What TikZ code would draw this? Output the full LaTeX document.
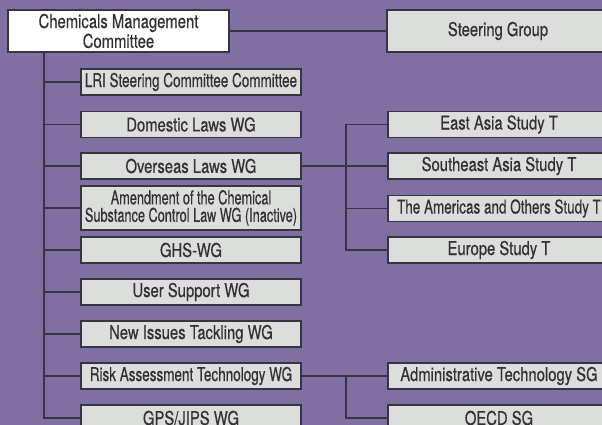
\documentclass[tikz,border=0pt]{standalone}
\usepackage{fontspec}
\setmainfont[FakeStretch=0.78,FakeBold=0.4]{TeX Gyre Heros}
\newfontfamily\fnarrow[FakeStretch=0.67,FakeBold=0.4]{TeX Gyre Heros}
\newfontfamily\fmid[FakeStretch=0.71,FakeBold=0.4]{TeX Gyre Heros}
\definecolor{bg}{HTML}{7E70A0}
\definecolor{boxfill}{HTML}{DCDEDC}
\definecolor{ln}{HTML}{3A3343}
\definecolor{txt}{HTML}{333133}
\begin{document}
\begin{tikzpicture}[x=1pt,y=-1pt,
  box/.style={draw=ln,line width=1.3pt,fill=boxfill,inner sep=0pt,text=txt,font=\fontsize{19}{17.5}\selectfont,align=center},
  lbox/.style={box,minimum width=220pt,minimum height=26pt},
  rbox/.style={box,minimum width=222pt,minimum height=26pt},
  conn/.style={draw=ln,line width=1.3pt}]
\useasboundingbox (0,0) rectangle (602,425);
\clip (0,0) rectangle (602,425);
\fill[bg] (0,0) rectangle (602,425);
% top
\node[box,fill=white,minimum width=221pt,minimum height=42pt] (cmc) at (118.5,31) {Chemicals Management\\[0.5pt]Committee};
\node[rbox,minimum height=42pt] (sg) at (498,31) {Steering Group};
% left column
\node[lbox] (lri) at (191,82) {\fmid LRI Steering Committee Committee};
\node[lbox] (dom) at (191,124.5) {Domestic Laws WG};
\node[lbox] (ovs) at (191,166) {Overseas Laws WG};
\node[lbox,minimum height=44pt] (amd) at (191,208) {\fnarrow Amendment of the Chemical\\\fnarrow Substance Control Law WG (Inactive)};
\node[lbox] (ghs) at (191,250) {GHS-WG};
\node[lbox] (usr) at (191,292) {User Support WG};
\node[lbox] (new) at (191,334) {New Issues Tackling WG};
\node[lbox] (rsk) at (191,376) {\fmid Risk Assessment Technology WG};
\node[lbox] (gps) at (191,418) {GPS/JIPS WG};
% right column
\node[rbox] (ea) at (499,124.5) {East Asia Study T};
\node[rbox] (sea) at (499,166) {Southeast Asia Study T};
\node[rbox] (am) at (499,208.5) {\fmid The Americas and Others Study T};
\node[rbox] (eu) at (499,250) {Europe Study T};
\node[rbox] (adm) at (499,376) {Administrative Technology SG};
\node[rbox] (oecd) at (499,418) {OECD SG};
% connectors
\coordinate (trunk) at (44,0);
\draw[conn] (cmc.east) -- (sg.west);
\draw[conn] (cmc.south -| trunk) -- (gps.west -| trunk) -- (gps.west);
\foreach \n in {lri,dom,ovs,amd,ghs,usr,new,rsk}
  \draw[conn] (\n.west -| trunk) -- (\n.west);
\coordinate (sub) at (346,0);
\draw[conn] (ovs.east) -- (sea.west);
\draw[conn] (ea.west) -- (ea.west -| sub) -- (eu.west -| sub) -- (eu.west);
\draw[conn] (am.west -| sub) -- (am.west);
\draw[conn] (rsk.east) -- (adm.west);
\draw[conn] (rsk.east -| sub) -- (oecd.west -| sub) -- (oecd.west);
\end{tikzpicture}
\end{document}
